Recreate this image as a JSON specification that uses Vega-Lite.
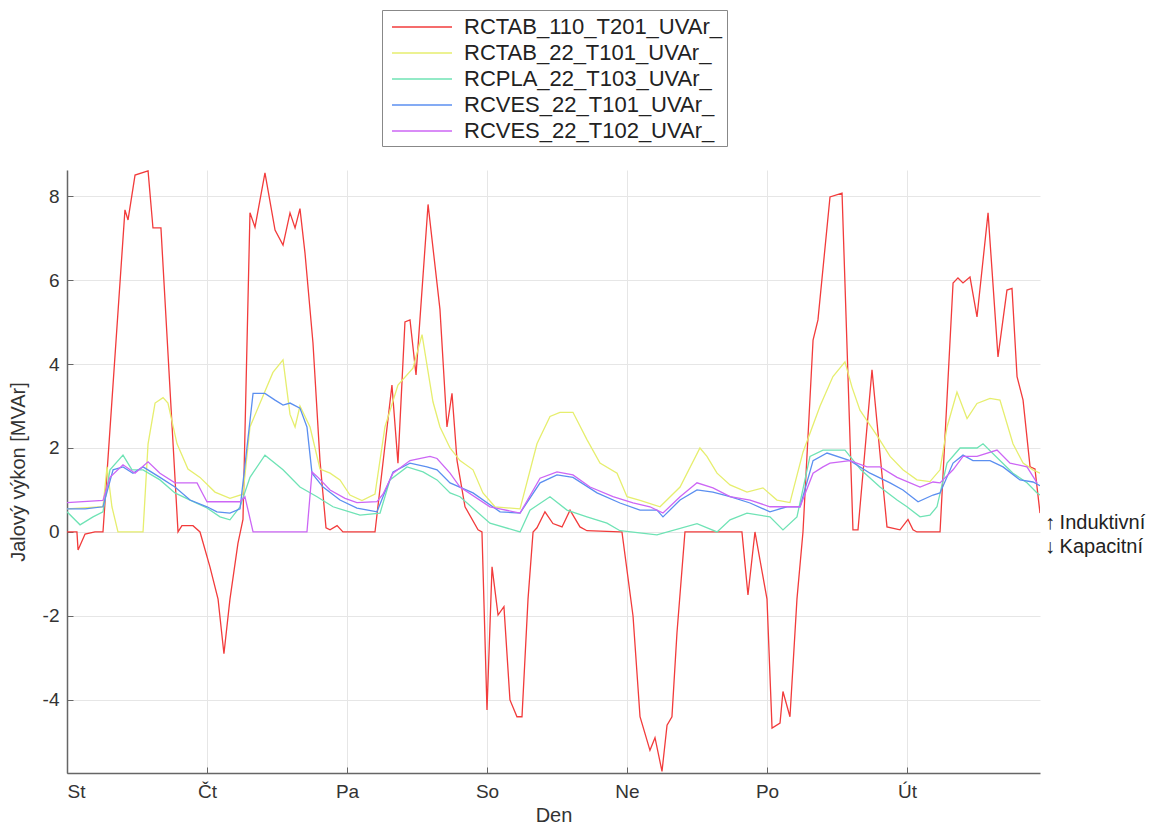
{
  "$schema": "https://vega.github.io/schema/vega-lite/v6.json",
  "width": 973,
  "height": 603,
  "autosize": {"type": "none"},
  "padding": {"left": 67, "top": 170, "right": 122, "bottom": 54},
  "background": "white",
  "config": {
    "view": {"stroke": null},
    "font": "Liberation Sans",
    "axis": {
      "labelFont": "Liberation Sans",
      "titleFont": "Liberation Sans",
      "labelFontSize": 19,
      "titleFontSize": 20,
      "titleFontWeight": "normal",
      "labelColor": "#333",
      "titleColor": "#333",
      "domainColor": "#666",
      "domainWidth": 1.5,
      "tickColor": "#666",
      "gridColor": "#e6e6e6",
      "gridWidth": 1
    }
  },
  "datasets": {
    "series": [
      {"s":"RCTAB_110_T201_UVAr_","t":0.000,"v":0},{"s":"RCTAB_110_T201_UVAr_","t":0.071,"v":0},{"s":"RCTAB_110_T201_UVAr_","t":0.079,"v":-0.43},{"s":"RCTAB_110_T201_UVAr_","t":0.129,"v":-0.05},{"s":"RCTAB_110_T201_UVAr_","t":0.2,"v":0},{"s":"RCTAB_110_T201_UVAr_","t":0.257,"v":0},{"s":"RCTAB_110_T201_UVAr_","t":0.414,"v":7.67},{"s":"RCTAB_110_T201_UVAr_","t":0.436,"v":7.43},{"s":"RCTAB_110_T201_UVAr_","t":0.486,"v":8.5},{"s":"RCTAB_110_T201_UVAr_","t":0.579,"v":8.6},{"s":"RCTAB_110_T201_UVAr_","t":0.614,"v":7.24},{"s":"RCTAB_110_T201_UVAr_","t":0.671,"v":7.24},{"s":"RCTAB_110_T201_UVAr_","t":0.793,"v":0},{"s":"RCTAB_110_T201_UVAr_","t":0.821,"v":0.15},{"s":"RCTAB_110_T201_UVAr_","t":0.9,"v":0.15},{"s":"RCTAB_110_T201_UVAr_","t":0.95,"v":0},{"s":"RCTAB_110_T201_UVAr_","t":1.021,"v":-0.83},{"s":"RCTAB_110_T201_UVAr_","t":1.079,"v":-1.6},{"s":"RCTAB_110_T201_UVAr_","t":1.121,"v":-2.9},{"s":"RCTAB_110_T201_UVAr_","t":1.164,"v":-1.6},{"s":"RCTAB_110_T201_UVAr_","t":1.221,"v":-0.27},{"s":"RCTAB_110_T201_UVAr_","t":1.257,"v":0.3},{"s":"RCTAB_110_T201_UVAr_","t":1.307,"v":7.6},{"s":"RCTAB_110_T201_UVAr_","t":1.343,"v":7.26},{"s":"RCTAB_110_T201_UVAr_","t":1.414,"v":8.55},{"s":"RCTAB_110_T201_UVAr_","t":1.486,"v":7.19},{"s":"RCTAB_110_T201_UVAr_","t":1.543,"v":6.83},{"s":"RCTAB_110_T201_UVAr_","t":1.593,"v":7.6},{"s":"RCTAB_110_T201_UVAr_","t":1.629,"v":7.24},{"s":"RCTAB_110_T201_UVAr_","t":1.664,"v":7.7},{"s":"RCTAB_110_T201_UVAr_","t":1.7,"v":6.64},{"s":"RCTAB_110_T201_UVAr_","t":1.757,"v":4.5},{"s":"RCTAB_110_T201_UVAr_","t":1.807,"v":1.7},{"s":"RCTAB_110_T201_UVAr_","t":1.85,"v":0.1},{"s":"RCTAB_110_T201_UVAr_","t":1.879,"v":0.05},{"s":"RCTAB_110_T201_UVAr_","t":1.929,"v":0.15},{"s":"RCTAB_110_T201_UVAr_","t":1.971,"v":0},{"s":"RCTAB_110_T201_UVAr_","t":2.2,"v":0},{"s":"RCTAB_110_T201_UVAr_","t":2.321,"v":3.5},{"s":"RCTAB_110_T201_UVAr_","t":2.364,"v":1.64},{"s":"RCTAB_110_T201_UVAr_","t":2.414,"v":5.0},{"s":"RCTAB_110_T201_UVAr_","t":2.45,"v":5.05},{"s":"RCTAB_110_T201_UVAr_","t":2.493,"v":3.74},{"s":"RCTAB_110_T201_UVAr_","t":2.579,"v":7.8},{"s":"RCTAB_110_T201_UVAr_","t":2.664,"v":5.3},{"s":"RCTAB_110_T201_UVAr_","t":2.714,"v":2.5},{"s":"RCTAB_110_T201_UVAr_","t":2.75,"v":3.3},{"s":"RCTAB_110_T201_UVAr_","t":2.786,"v":1.7},{"s":"RCTAB_110_T201_UVAr_","t":2.843,"v":0.6},{"s":"RCTAB_110_T201_UVAr_","t":2.936,"v":0.05},{"s":"RCTAB_110_T201_UVAr_","t":2.964,"v":0},{"s":"RCTAB_110_T201_UVAr_","t":3.0,"v":-4.24},{"s":"RCTAB_110_T201_UVAr_","t":3.036,"v":-0.83},{"s":"RCTAB_110_T201_UVAr_","t":3.079,"v":-1.98},{"s":"RCTAB_110_T201_UVAr_","t":3.121,"v":-1.78},{"s":"RCTAB_110_T201_UVAr_","t":3.164,"v":-4.0},{"s":"RCTAB_110_T201_UVAr_","t":3.214,"v":-4.4},{"s":"RCTAB_110_T201_UVAr_","t":3.25,"v":-4.4},{"s":"RCTAB_110_T201_UVAr_","t":3.293,"v":-1.6},{"s":"RCTAB_110_T201_UVAr_","t":3.329,"v":0},{"s":"RCTAB_110_T201_UVAr_","t":3.357,"v":0.1},{"s":"RCTAB_110_T201_UVAr_","t":3.414,"v":0.48},{"s":"RCTAB_110_T201_UVAr_","t":3.471,"v":0.2},{"s":"RCTAB_110_T201_UVAr_","t":3.536,"v":0.12},{"s":"RCTAB_110_T201_UVAr_","t":3.593,"v":0.52},{"s":"RCTAB_110_T201_UVAr_","t":3.664,"v":0.12},{"s":"RCTAB_110_T201_UVAr_","t":3.714,"v":0.03},{"s":"RCTAB_110_T201_UVAr_","t":3.95,"v":0},{"s":"RCTAB_110_T201_UVAr_","t":3.964,"v":0},{"s":"RCTAB_110_T201_UVAr_","t":4.043,"v":-2.0},{"s":"RCTAB_110_T201_UVAr_","t":4.093,"v":-4.4},{"s":"RCTAB_110_T201_UVAr_","t":4.164,"v":-5.2},{"s":"RCTAB_110_T201_UVAr_","t":4.2,"v":-4.9},{"s":"RCTAB_110_T201_UVAr_","t":4.25,"v":-5.7},{"s":"RCTAB_110_T201_UVAr_","t":4.286,"v":-4.6},{"s":"RCTAB_110_T201_UVAr_","t":4.321,"v":-4.4},{"s":"RCTAB_110_T201_UVAr_","t":4.357,"v":-2.4},{"s":"RCTAB_110_T201_UVAr_","t":4.414,"v":0},{"s":"RCTAB_110_T201_UVAr_","t":4.821,"v":0},{"s":"RCTAB_110_T201_UVAr_","t":4.864,"v":-1.5},{"s":"RCTAB_110_T201_UVAr_","t":4.914,"v":0},{"s":"RCTAB_110_T201_UVAr_","t":5.0,"v":-1.6},{"s":"RCTAB_110_T201_UVAr_","t":5.036,"v":-4.67},{"s":"RCTAB_110_T201_UVAr_","t":5.093,"v":-4.55},{"s":"RCTAB_110_T201_UVAr_","t":5.114,"v":-3.8},{"s":"RCTAB_110_T201_UVAr_","t":5.164,"v":-4.4},{"s":"RCTAB_110_T201_UVAr_","t":5.214,"v":-1.6},{"s":"RCTAB_110_T201_UVAr_","t":5.257,"v":0},{"s":"RCTAB_110_T201_UVAr_","t":5.329,"v":4.57},{"s":"RCTAB_110_T201_UVAr_","t":5.364,"v":5.05},{"s":"RCTAB_110_T201_UVAr_","t":5.45,"v":7.98},{"s":"RCTAB_110_T201_UVAr_","t":5.536,"v":8.07},{"s":"RCTAB_110_T201_UVAr_","t":5.614,"v":0.05},{"s":"RCTAB_110_T201_UVAr_","t":5.65,"v":0.05},{"s":"RCTAB_110_T201_UVAr_","t":5.75,"v":3.86},{"s":"RCTAB_110_T201_UVAr_","t":5.857,"v":0.12},{"s":"RCTAB_110_T201_UVAr_","t":5.95,"v":0.05},{"s":"RCTAB_110_T201_UVAr_","t":6.007,"v":0.3},{"s":"RCTAB_110_T201_UVAr_","t":6.043,"v":0.05},{"s":"RCTAB_110_T201_UVAr_","t":6.071,"v":0},{"s":"RCTAB_110_T201_UVAr_","t":6.236,"v":0},{"s":"RCTAB_110_T201_UVAr_","t":6.329,"v":5.93},{"s":"RCTAB_110_T201_UVAr_","t":6.364,"v":6.05},{"s":"RCTAB_110_T201_UVAr_","t":6.4,"v":5.93},{"s":"RCTAB_110_T201_UVAr_","t":6.45,"v":6.07},{"s":"RCTAB_110_T201_UVAr_","t":6.5,"v":5.12},{"s":"RCTAB_110_T201_UVAr_","t":6.579,"v":7.6},{"s":"RCTAB_110_T201_UVAr_","t":6.65,"v":4.17},{"s":"RCTAB_110_T201_UVAr_","t":6.714,"v":5.76},{"s":"RCTAB_110_T201_UVAr_","t":6.75,"v":5.8},{"s":"RCTAB_110_T201_UVAr_","t":6.786,"v":3.7},{"s":"RCTAB_110_T201_UVAr_","t":6.829,"v":3.14},{"s":"RCTAB_110_T201_UVAr_","t":6.879,"v":1.55},{"s":"RCTAB_110_T201_UVAr_","t":6.914,"v":1.5},{"s":"RCTAB_110_T201_UVAr_","t":6.95,"v":0.45},

      {"s":"RCTAB_22_T101_UVAr_","t":0,"v":0.55},{"s":"RCTAB_22_T101_UVAr_","t":0.257,"v":0.6},{"s":"RCTAB_22_T101_UVAr_","t":0.286,"v":1.55},{"s":"RCTAB_22_T101_UVAr_","t":0.321,"v":0.6},{"s":"RCTAB_22_T101_UVAr_","t":0.364,"v":0},{"s":"RCTAB_22_T101_UVAr_","t":0.543,"v":0},{"s":"RCTAB_22_T101_UVAr_","t":0.579,"v":2.1},{"s":"RCTAB_22_T101_UVAr_","t":0.629,"v":3.07},{"s":"RCTAB_22_T101_UVAr_","t":0.686,"v":3.2},{"s":"RCTAB_22_T101_UVAr_","t":0.721,"v":3.07},{"s":"RCTAB_22_T101_UVAr_","t":0.786,"v":2.1},{"s":"RCTAB_22_T101_UVAr_","t":0.864,"v":1.5},{"s":"RCTAB_22_T101_UVAr_","t":0.95,"v":1.3},{"s":"RCTAB_22_T101_UVAr_","t":1.057,"v":0.95},{"s":"RCTAB_22_T101_UVAr_","t":1.164,"v":0.8},{"s":"RCTAB_22_T101_UVAr_","t":1.257,"v":0.9},{"s":"RCTAB_22_T101_UVAr_","t":1.307,"v":2.5},{"s":"RCTAB_22_T101_UVAr_","t":1.471,"v":3.8},{"s":"RCTAB_22_T101_UVAr_","t":1.543,"v":4.1},{"s":"RCTAB_22_T101_UVAr_","t":1.593,"v":2.8},{"s":"RCTAB_22_T101_UVAr_","t":1.629,"v":2.5},{"s":"RCTAB_22_T101_UVAr_","t":1.664,"v":3.0},{"s":"RCTAB_22_T101_UVAr_","t":1.736,"v":2.5},{"s":"RCTAB_22_T101_UVAr_","t":1.807,"v":1.5},{"s":"RCTAB_22_T101_UVAr_","t":1.879,"v":1.4},{"s":"RCTAB_22_T101_UVAr_","t":1.95,"v":1.24},{"s":"RCTAB_22_T101_UVAr_","t":2.021,"v":0.88},{"s":"RCTAB_22_T101_UVAr_","t":2.107,"v":0.75},{"s":"RCTAB_22_T101_UVAr_","t":2.2,"v":0.9},{"s":"RCTAB_22_T101_UVAr_","t":2.271,"v":2.5},{"s":"RCTAB_22_T101_UVAr_","t":2.364,"v":3.5},{"s":"RCTAB_22_T101_UVAr_","t":2.471,"v":3.9},{"s":"RCTAB_22_T101_UVAr_","t":2.536,"v":4.7},{"s":"RCTAB_22_T101_UVAr_","t":2.614,"v":3.1},{"s":"RCTAB_22_T101_UVAr_","t":2.664,"v":2.5},{"s":"RCTAB_22_T101_UVAr_","t":2.736,"v":2.0},{"s":"RCTAB_22_T101_UVAr_","t":2.807,"v":1.7},{"s":"RCTAB_22_T101_UVAr_","t":2.9,"v":1.48},{"s":"RCTAB_22_T101_UVAr_","t":2.971,"v":0.93},{"s":"RCTAB_22_T101_UVAr_","t":3.057,"v":0.6},{"s":"RCTAB_22_T101_UVAr_","t":3.236,"v":0.55},{"s":"RCTAB_22_T101_UVAr_","t":3.357,"v":2.1},{"s":"RCTAB_22_T101_UVAr_","t":3.45,"v":2.75},{"s":"RCTAB_22_T101_UVAr_","t":3.521,"v":2.85},{"s":"RCTAB_22_T101_UVAr_","t":3.614,"v":2.85},{"s":"RCTAB_22_T101_UVAr_","t":3.714,"v":2.2},{"s":"RCTAB_22_T101_UVAr_","t":3.807,"v":1.64},{"s":"RCTAB_22_T101_UVAr_","t":3.929,"v":1.4},{"s":"RCTAB_22_T101_UVAr_","t":4.0,"v":0.84},{"s":"RCTAB_22_T101_UVAr_","t":4.093,"v":0.75},{"s":"RCTAB_22_T101_UVAr_","t":4.236,"v":0.6},{"s":"RCTAB_22_T101_UVAr_","t":4.379,"v":1.07},{"s":"RCTAB_22_T101_UVAr_","t":4.521,"v":2.0},{"s":"RCTAB_22_T101_UVAr_","t":4.571,"v":1.8},{"s":"RCTAB_22_T101_UVAr_","t":4.643,"v":1.4},{"s":"RCTAB_22_T101_UVAr_","t":4.736,"v":1.12},{"s":"RCTAB_22_T101_UVAr_","t":4.857,"v":0.95},{"s":"RCTAB_22_T101_UVAr_","t":4.971,"v":1.05},{"s":"RCTAB_22_T101_UVAr_","t":5.071,"v":0.76},{"s":"RCTAB_22_T101_UVAr_","t":5.164,"v":0.7},{"s":"RCTAB_22_T101_UVAr_","t":5.257,"v":1.9},{"s":"RCTAB_22_T101_UVAr_","t":5.379,"v":3.0},{"s":"RCTAB_22_T101_UVAr_","t":5.471,"v":3.7},{"s":"RCTAB_22_T101_UVAr_","t":5.557,"v":4.05},{"s":"RCTAB_22_T101_UVAr_","t":5.607,"v":3.45},{"s":"RCTAB_22_T101_UVAr_","t":5.664,"v":2.9},{"s":"RCTAB_22_T101_UVAr_","t":5.793,"v":2.26},{"s":"RCTAB_22_T101_UVAr_","t":5.879,"v":1.8},{"s":"RCTAB_22_T101_UVAr_","t":5.971,"v":1.48},{"s":"RCTAB_22_T101_UVAr_","t":6.071,"v":1.24},{"s":"RCTAB_22_T101_UVAr_","t":6.164,"v":1.2},{"s":"RCTAB_22_T101_UVAr_","t":6.236,"v":1.48},{"s":"RCTAB_22_T101_UVAr_","t":6.286,"v":2.5},{"s":"RCTAB_22_T101_UVAr_","t":6.357,"v":3.33},{"s":"RCTAB_22_T101_UVAr_","t":6.429,"v":2.7},{"s":"RCTAB_22_T101_UVAr_","t":6.5,"v":3.06},{"s":"RCTAB_22_T101_UVAr_","t":6.593,"v":3.18},{"s":"RCTAB_22_T101_UVAr_","t":6.664,"v":3.14},{"s":"RCTAB_22_T101_UVAr_","t":6.757,"v":2.1},{"s":"RCTAB_22_T101_UVAr_","t":6.829,"v":1.64},{"s":"RCTAB_22_T101_UVAr_","t":6.9,"v":1.48},{"s":"RCTAB_22_T101_UVAr_","t":6.95,"v":1.4},

      {"s":"RCPLA_22_T103_UVAr_","t":0,"v":0.48},{"s":"RCPLA_22_T103_UVAr_","t":0.093,"v":0.17},{"s":"RCPLA_22_T103_UVAr_","t":0.186,"v":0.36},{"s":"RCPLA_22_T103_UVAr_","t":0.257,"v":0.48},{"s":"RCPLA_22_T103_UVAr_","t":0.307,"v":1.48},{"s":"RCPLA_22_T103_UVAr_","t":0.4,"v":1.83},{"s":"RCPLA_22_T103_UVAr_","t":0.464,"v":1.48},{"s":"RCPLA_22_T103_UVAr_","t":0.543,"v":1.48},{"s":"RCPLA_22_T103_UVAr_","t":0.664,"v":1.24},{"s":"RCPLA_22_T103_UVAr_","t":0.771,"v":0.93},{"s":"RCPLA_22_T103_UVAr_","t":0.879,"v":0.76},{"s":"RCPLA_22_T103_UVAr_","t":1.0,"v":0.57},{"s":"RCPLA_22_T103_UVAr_","t":1.093,"v":0.36},{"s":"RCPLA_22_T103_UVAr_","t":1.164,"v":0.29},{"s":"RCPLA_22_T103_UVAr_","t":1.236,"v":0.6},{"s":"RCPLA_22_T103_UVAr_","t":1.307,"v":1.3},{"s":"RCPLA_22_T103_UVAr_","t":1.414,"v":1.83},{"s":"RCPLA_22_T103_UVAr_","t":1.543,"v":1.48},{"s":"RCPLA_22_T103_UVAr_","t":1.664,"v":1.07},{"s":"RCPLA_22_T103_UVAr_","t":1.786,"v":0.84},{"s":"RCPLA_22_T103_UVAr_","t":1.9,"v":0.6},{"s":"RCPLA_22_T103_UVAr_","t":2.093,"v":0.4},{"s":"RCPLA_22_T103_UVAr_","t":2.236,"v":0.45},{"s":"RCPLA_22_T103_UVAr_","t":2.307,"v":1.24},{"s":"RCPLA_22_T103_UVAr_","t":2.429,"v":1.55},{"s":"RCPLA_22_T103_UVAr_","t":2.543,"v":1.43},{"s":"RCPLA_22_T103_UVAr_","t":2.643,"v":1.24},{"s":"RCPLA_22_T103_UVAr_","t":2.736,"v":0.93},{"s":"RCPLA_22_T103_UVAr_","t":2.807,"v":0.84},{"s":"RCPLA_22_T103_UVAr_","t":3.021,"v":0.21},{"s":"RCPLA_22_T103_UVAr_","t":3.236,"v":0.0},{"s":"RCPLA_22_T103_UVAr_","t":3.307,"v":0.52},{"s":"RCPLA_22_T103_UVAr_","t":3.45,"v":0.84},{"s":"RCPLA_22_T103_UVAr_","t":3.571,"v":0.52},{"s":"RCPLA_22_T103_UVAr_","t":3.714,"v":0.36},{"s":"RCPLA_22_T103_UVAr_","t":3.857,"v":0.21},{"s":"RCPLA_22_T103_UVAr_","t":3.95,"v":0.03},{"s":"RCPLA_22_T103_UVAr_","t":4.214,"v":-0.07},{"s":"RCPLA_22_T103_UVAr_","t":4.5,"v":0.2},{"s":"RCPLA_22_T103_UVAr_","t":4.643,"v":0.0},{"s":"RCPLA_22_T103_UVAr_","t":4.736,"v":0.29},{"s":"RCPLA_22_T103_UVAr_","t":4.857,"v":0.45},{"s":"RCPLA_22_T103_UVAr_","t":5.021,"v":0.36},{"s":"RCPLA_22_T103_UVAr_","t":5.114,"v":0.05},{"s":"RCPLA_22_T103_UVAr_","t":5.214,"v":0.36},{"s":"RCPLA_22_T103_UVAr_","t":5.307,"v":1.8},{"s":"RCPLA_22_T103_UVAr_","t":5.4,"v":1.95},{"s":"RCPLA_22_T103_UVAr_","t":5.557,"v":1.95},{"s":"RCPLA_22_T103_UVAr_","t":5.671,"v":1.48},{"s":"RCPLA_22_T103_UVAr_","t":5.807,"v":1.07},{"s":"RCPLA_22_T103_UVAr_","t":5.929,"v":0.76},{"s":"RCPLA_22_T103_UVAr_","t":6.0,"v":0.6},{"s":"RCPLA_22_T103_UVAr_","t":6.093,"v":0.36},{"s":"RCPLA_22_T103_UVAr_","t":6.164,"v":0.4},{"s":"RCPLA_22_T103_UVAr_","t":6.214,"v":0.6},{"s":"RCPLA_22_T103_UVAr_","t":6.286,"v":1.64},{"s":"RCPLA_22_T103_UVAr_","t":6.379,"v":2.0},{"s":"RCPLA_22_T103_UVAr_","t":6.5,"v":2.0},{"s":"RCPLA_22_T103_UVAr_","t":6.543,"v":2.1},{"s":"RCPLA_22_T103_UVAr_","t":6.664,"v":1.7},{"s":"RCPLA_22_T103_UVAr_","t":6.757,"v":1.4},{"s":"RCPLA_22_T103_UVAr_","t":6.857,"v":1.17},{"s":"RCPLA_22_T103_UVAr_","t":6.929,"v":0.93},{"s":"RCPLA_22_T103_UVAr_","t":6.95,"v":0.88},

      {"s":"RCVES_22_T101_UVAr_","t":0,"v":0.55},{"s":"RCVES_22_T101_UVAr_","t":0.129,"v":0.55},{"s":"RCVES_22_T101_UVAr_","t":0.257,"v":0.6},{"s":"RCVES_22_T101_UVAr_","t":0.329,"v":1.48},{"s":"RCVES_22_T101_UVAr_","t":0.4,"v":1.55},{"s":"RCVES_22_T101_UVAr_","t":0.471,"v":1.4},{"s":"RCVES_22_T101_UVAr_","t":0.543,"v":1.55},{"s":"RCVES_22_T101_UVAr_","t":0.664,"v":1.3},{"s":"RCVES_22_T101_UVAr_","t":0.771,"v":1.07},{"s":"RCVES_22_T101_UVAr_","t":0.879,"v":0.76},{"s":"RCVES_22_T101_UVAr_","t":1.0,"v":0.6},{"s":"RCVES_22_T101_UVAr_","t":1.071,"v":0.48},{"s":"RCVES_22_T101_UVAr_","t":1.164,"v":0.45},{"s":"RCVES_22_T101_UVAr_","t":1.236,"v":0.55},{"s":"RCVES_22_T101_UVAr_","t":1.329,"v":3.3},{"s":"RCVES_22_T101_UVAr_","t":1.414,"v":3.3},{"s":"RCVES_22_T101_UVAr_","t":1.486,"v":3.14},{"s":"RCVES_22_T101_UVAr_","t":1.543,"v":3.02},{"s":"RCVES_22_T101_UVAr_","t":1.593,"v":3.07},{"s":"RCVES_22_T101_UVAr_","t":1.664,"v":2.95},{"s":"RCVES_22_T101_UVAr_","t":1.714,"v":2.5},{"s":"RCVES_22_T101_UVAr_","t":1.75,"v":1.4},{"s":"RCVES_22_T101_UVAr_","t":1.829,"v":1.07},{"s":"RCVES_22_T101_UVAr_","t":1.95,"v":0.76},{"s":"RCVES_22_T101_UVAr_","t":2.071,"v":0.57},{"s":"RCVES_22_T101_UVAr_","t":2.214,"v":0.48},{"s":"RCVES_22_T101_UVAr_","t":2.257,"v":0.84},{"s":"RCVES_22_T101_UVAr_","t":2.329,"v":1.43},{"s":"RCVES_22_T101_UVAr_","t":2.45,"v":1.64},{"s":"RCVES_22_T101_UVAr_","t":2.571,"v":1.55},{"s":"RCVES_22_T101_UVAr_","t":2.643,"v":1.48},{"s":"RCVES_22_T101_UVAr_","t":2.736,"v":1.17},{"s":"RCVES_22_T101_UVAr_","t":2.9,"v":0.93},{"s":"RCVES_22_T101_UVAr_","t":3.093,"v":0.48},{"s":"RCVES_22_T101_UVAr_","t":3.236,"v":0.45},{"s":"RCVES_22_T101_UVAr_","t":3.379,"v":1.17},{"s":"RCVES_22_T101_UVAr_","t":3.5,"v":1.36},{"s":"RCVES_22_T101_UVAr_","t":3.614,"v":1.3},{"s":"RCVES_22_T101_UVAr_","t":3.786,"v":0.93},{"s":"RCVES_22_T101_UVAr_","t":3.95,"v":0.69},{"s":"RCVES_22_T101_UVAr_","t":4.093,"v":0.52},{"s":"RCVES_22_T101_UVAr_","t":4.214,"v":0.52},{"s":"RCVES_22_T101_UVAr_","t":4.257,"v":0.36},{"s":"RCVES_22_T101_UVAr_","t":4.379,"v":0.76},{"s":"RCVES_22_T101_UVAr_","t":4.5,"v":1.0},{"s":"RCVES_22_T101_UVAr_","t":4.614,"v":0.95},{"s":"RCVES_22_T101_UVAr_","t":4.736,"v":0.84},{"s":"RCVES_22_T101_UVAr_","t":4.879,"v":0.69},{"s":"RCVES_22_T101_UVAr_","t":5.021,"v":0.48},{"s":"RCVES_22_T101_UVAr_","t":5.143,"v":0.6},{"s":"RCVES_22_T101_UVAr_","t":5.236,"v":0.6},{"s":"RCVES_22_T101_UVAr_","t":5.329,"v":1.7},{"s":"RCVES_22_T101_UVAr_","t":5.429,"v":1.88},{"s":"RCVES_22_T101_UVAr_","t":5.593,"v":1.7},{"s":"RCVES_22_T101_UVAr_","t":5.736,"v":1.4},{"s":"RCVES_22_T101_UVAr_","t":5.879,"v":1.17},{"s":"RCVES_22_T101_UVAr_","t":5.971,"v":1.0},{"s":"RCVES_22_T101_UVAr_","t":6.079,"v":0.72},{"s":"RCVES_22_T101_UVAr_","t":6.186,"v":0.88},{"s":"RCVES_22_T101_UVAr_","t":6.236,"v":0.93},{"s":"RCVES_22_T101_UVAr_","t":6.329,"v":1.64},{"s":"RCVES_22_T101_UVAr_","t":6.4,"v":1.83},{"s":"RCVES_22_T101_UVAr_","t":6.471,"v":1.7},{"s":"RCVES_22_T101_UVAr_","t":6.593,"v":1.7},{"s":"RCVES_22_T101_UVAr_","t":6.686,"v":1.55},{"s":"RCVES_22_T101_UVAr_","t":6.807,"v":1.24},{"s":"RCVES_22_T101_UVAr_","t":6.9,"v":1.19},{"s":"RCVES_22_T101_UVAr_","t":6.95,"v":1.1},

      {"s":"RCVES_22_T102_UVAr_","t":0,"v":0.7},{"s":"RCVES_22_T102_UVAr_","t":0.257,"v":0.75},{"s":"RCVES_22_T102_UVAr_","t":0.307,"v":1.3},{"s":"RCVES_22_T102_UVAr_","t":0.4,"v":1.6},{"s":"RCVES_22_T102_UVAr_","t":0.486,"v":1.4},{"s":"RCVES_22_T102_UVAr_","t":0.579,"v":1.67},{"s":"RCVES_22_T102_UVAr_","t":0.664,"v":1.4},{"s":"RCVES_22_T102_UVAr_","t":0.771,"v":1.17},{"s":"RCVES_22_T102_UVAr_","t":0.929,"v":1.17},{"s":"RCVES_22_T102_UVAr_","t":0.971,"v":0.9},{"s":"RCVES_22_T102_UVAr_","t":1.0,"v":0.72},{"s":"RCVES_22_T102_UVAr_","t":1.236,"v":0.72},{"s":"RCVES_22_T102_UVAr_","t":1.271,"v":0.84},{"s":"RCVES_22_T102_UVAr_","t":1.329,"v":0},{"s":"RCVES_22_T102_UVAr_","t":1.714,"v":0},{"s":"RCVES_22_T102_UVAr_","t":1.75,"v":1.43},{"s":"RCVES_22_T102_UVAr_","t":1.793,"v":1.3},{"s":"RCVES_22_T102_UVAr_","t":1.879,"v":1.0},{"s":"RCVES_22_T102_UVAr_","t":1.986,"v":0.8},{"s":"RCVES_22_T102_UVAr_","t":2.071,"v":0.7},{"s":"RCVES_22_T102_UVAr_","t":2.214,"v":0.72},{"s":"RCVES_22_T102_UVAr_","t":2.257,"v":0.9},{"s":"RCVES_22_T102_UVAr_","t":2.329,"v":1.4},{"s":"RCVES_22_T102_UVAr_","t":2.45,"v":1.7},{"s":"RCVES_22_T102_UVAr_","t":2.593,"v":1.8},{"s":"RCVES_22_T102_UVAr_","t":2.643,"v":1.75},{"s":"RCVES_22_T102_UVAr_","t":2.736,"v":1.4},{"s":"RCVES_22_T102_UVAr_","t":2.807,"v":1.07},{"s":"RCVES_22_T102_UVAr_","t":3.021,"v":0.6},{"s":"RCVES_22_T102_UVAr_","t":3.236,"v":0.45},{"s":"RCVES_22_T102_UVAr_","t":3.379,"v":1.28},{"s":"RCVES_22_T102_UVAr_","t":3.5,"v":1.43},{"s":"RCVES_22_T102_UVAr_","t":3.614,"v":1.36},{"s":"RCVES_22_T102_UVAr_","t":3.736,"v":1.07},{"s":"RCVES_22_T102_UVAr_","t":3.9,"v":0.84},{"s":"RCVES_22_T102_UVAr_","t":4.043,"v":0.69},{"s":"RCVES_22_T102_UVAr_","t":4.164,"v":0.6},{"s":"RCVES_22_T102_UVAr_","t":4.257,"v":0.45},{"s":"RCVES_22_T102_UVAr_","t":4.379,"v":0.84},{"s":"RCVES_22_T102_UVAr_","t":4.5,"v":1.17},{"s":"RCVES_22_T102_UVAr_","t":4.614,"v":1.05},{"s":"RCVES_22_T102_UVAr_","t":4.736,"v":0.84},{"s":"RCVES_22_T102_UVAr_","t":4.879,"v":0.76},{"s":"RCVES_22_T102_UVAr_","t":5.021,"v":0.6},{"s":"RCVES_22_T102_UVAr_","t":5.236,"v":0.6},{"s":"RCVES_22_T102_UVAr_","t":5.329,"v":1.4},{"s":"RCVES_22_T102_UVAr_","t":5.4,"v":1.55},{"s":"RCVES_22_T102_UVAr_","t":5.45,"v":1.64},{"s":"RCVES_22_T102_UVAr_","t":5.593,"v":1.7},{"s":"RCVES_22_T102_UVAr_","t":5.714,"v":1.55},{"s":"RCVES_22_T102_UVAr_","t":5.807,"v":1.55},{"s":"RCVES_22_T102_UVAr_","t":5.929,"v":1.3},{"s":"RCVES_22_T102_UVAr_","t":6.093,"v":1.07},{"s":"RCVES_22_T102_UVAr_","t":6.186,"v":1.19},{"s":"RCVES_22_T102_UVAr_","t":6.236,"v":1.17},{"s":"RCVES_22_T102_UVAr_","t":6.329,"v":1.48},{"s":"RCVES_22_T102_UVAr_","t":6.4,"v":1.8},{"s":"RCVES_22_T102_UVAr_","t":6.5,"v":1.8},{"s":"RCVES_22_T102_UVAr_","t":6.643,"v":1.95},{"s":"RCVES_22_T102_UVAr_","t":6.736,"v":1.64},{"s":"RCVES_22_T102_UVAr_","t":6.857,"v":1.55},{"s":"RCVES_22_T102_UVAr_","t":6.929,"v":1.17}
    ],
    "notes": [
      {"t": 6.985, "v": 0.21, "txt": "↑"},
      {"t": 6.985, "v": -0.36, "txt": "↓"},
      {"t": 7.09, "v": 0.21, "txt": "Induktivní"},
      {"t": 7.09, "v": -0.36, "txt": "Kapacitní"}
    ]
  },
  "layer": [
    {
      "data": {"name": "series"},
      "mark": {"type": "line", "strokeWidth": 1.3, "clip": true},
      "encoding": {
        "x": {
          "field": "t", "type": "quantitative",
          "scale": {"domain": [0, 6.95], "nice": false, "zero": false},
          "axis": {
            "title": "Den",
            "values": [0, 1, 2, 3, 4, 5, 6],
            "labelExpr": "['St','Čt','Pa','So','Ne','Po','Út'][datum.value]",
            "grid": true,
            "tickSize": -6,
            "labelPadding": 15,
            "titlePadding": 4
          }
        },
        "y": {
          "field": "v", "type": "quantitative",
          "scale": {"domain": [-5.74, 8.62], "nice": false, "zero": false},
          "axis": {
            "title": "Jalový výkon [MVAr]",
            "values": [-4, -2, 0, 2, 4, 6, 8],
            "labelExpr": "'' + datum.value",
            "grid": true,
            "tickSize": -6,
            "labelPadding": 14,
            "titlePadding": 14
          }
        },
        "color": {
          "field": "s", "type": "nominal",
          "scale": {
            "domain": ["RCTAB_110_T201_UVAr_", "RCTAB_22_T101_UVAr_", "RCPLA_22_T103_UVAr_", "RCVES_22_T101_UVAr_", "RCVES_22_T102_UVAr_"],
            "range": ["#f23b3b", "#e6ee6e", "#6fe3b5", "#5b8ff0", "#cc66f5"]
          },
          "legend": {
            "title": null,
            "orient": "none",
            "legendX": 315,
            "legendY": -160,
            "symbolType": "M-2.5,0H2.5",
            "symbolSize": 576,
            "symbolStrokeWidth": 1.5,
            "symbolOffset": 23,
            "labelFont": "Liberation Sans",
            "labelFontSize": 22,
            "labelLimit": 400,
            "labelColor": "#222",
            "labelOffset": 29,
            "rowPadding": 2,
            "padding": 4,
            "strokeColor": "#888",
            "fillColor": "white"
          }
        }
      }
    },
    {
      "data": {"name": "notes"},
      "mark": {"type": "text", "align": "left", "baseline": "middle", "fontSize": 20, "font": "Liberation Sans", "color": "#222", "clip": false},
      "encoding": {
        "x": {"field": "t", "type": "quantitative"},
        "y": {"field": "v", "type": "quantitative"},
        "text": {"field": "txt"}
      }
    }
  ]
}
